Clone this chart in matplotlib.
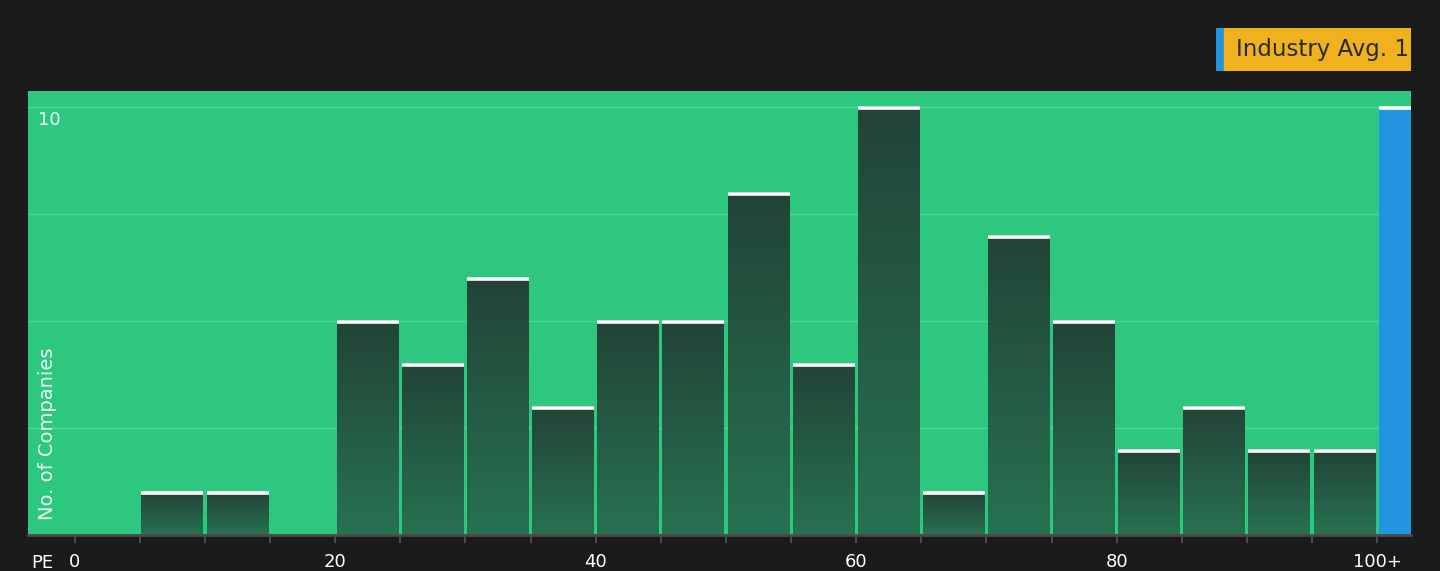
import numpy as np
import matplotlib
matplotlib.use("Agg")
import matplotlib.pyplot as plt
from matplotlib.patches import Rectangle

# Data
bin_starts = [0, 5, 10, 15, 20, 25, 30, 35, 40, 45, 50, 55, 60, 65, 70, 75, 80, 85, 90, 95]
counts = [0, 1, 1, 0, 5, 4, 6, 3, 5, 5, 8, 4, 10, 1, 7, 5, 2, 3, 2, 2]
highlight_start = 100
highlight_count = 10
tick_positions = [0, 20, 40, 60, 80, 100]
tick_labels = ["0", "20", "40", "60", "80", "100+"]
label_text = "Industry Avg. 11.2x"

BG = "#1b1b1b"
GREEN = "#2ec77f"
GRID = "#4fd796"
TOP_C = np.array([34, 68, 55]) / 255
BOT_C = np.array([39, 114, 82]) / 255
BLUE = "#2394e0"
YELLOW = "#efb11e"

fig = plt.figure(figsize=(14.4, 5.71), dpi=100, facecolor=BG)
ax = fig.add_axes([28/1440, 1-535/571, (1411-28)/1440, (535-91)/571])
ax.set_facecolor(GREEN)
xmin, xmax = -3.59, 102.6
ax.set_xlim(xmin, xmax)
ax.set_ylim(0, 10.37)

for g in [2.5, 5, 7.5, 10]:
    ax.axhline(g, color=GRID, lw=1.0, zorder=1)

bw = 5
gap = 0.12
grad = np.linspace(0, 1, 256).reshape(-1, 1)
cmap = matplotlib.colors.LinearSegmentedColormap.from_list("g", [BOT_C, TOP_C])
for s, c in zip(bin_starts, counts):
    if c <= 0:
        continue
    x0, x1 = s + gap, s + bw - gap
    ax.imshow(grad, extent=[x0, x1, 0, c], origin="lower", cmap=cmap,
              aspect="auto", zorder=2, interpolation="bilinear")
    ax.plot([x0, x1], [c - 0.03, c - 0.03], color="white", lw=2.6,
            solid_capstyle="butt", zorder=3)

ax.bar(highlight_start + gap, highlight_count, width=bw, align="edge",
       color=BLUE, zorder=2, linewidth=0)
ax.plot([highlight_start + gap, highlight_start + bw], [highlight_count - 0.03] * 2,
        color="white", lw=2.6, solid_capstyle="butt", zorder=3)
ax.set_xlim(xmin, xmax)

for sp in ["top", "right", "left"]:
    ax.spines[sp].set_visible(False)
ax.spines["bottom"].set_color("#4a4a4a")
ax.spines["bottom"].set_linewidth(2)
ax.spines["bottom"].set_zorder(5)

ax.set_xticks(list(range(0, 101, 5)))
ax.set_xticklabels([tick_labels[tick_positions.index(t)] if t in tick_positions else ""
                    for t in range(0, 101, 5)])
ax.tick_params(axis="x", colors="#555555", length=6, width=1.2, labelcolor="white",
               labelsize=13, pad=7)
ax.set_yticks([])

ax.text(-3.59 + (38 - 28) / 13.025, 10 - 13 / 42.8, "10", color="#e8fff2",
        fontsize=13, ha="left", va="center", zorder=6)
ax.text((48 - 75) / 13.025, 0.35, "No. of Companies", color="#e8fff2",
        fontsize=14, rotation=90, ha="center", va="bottom", zorder=6)
fig.text(31/1440, 1 - 563/571, "PE", color="white", fontsize=13, ha="left", va="center")

# Industry average label (clipped at axes right edge)
lax = fig.add_axes([1216/1440, 1-71/571, (1411-1216)/1440, 43/571])
lax.set_xlim(0, 195)
lax.set_ylim(0, 43)
lax.axis("off")
lax.add_patch(Rectangle((0, 0), 12, 43, color=BLUE, clip_on=True))
lax.add_patch(Rectangle((8, 0), 200, 43, color=YELLOW, clip_on=True))
lax.text(20, 21.5, label_text, color="#2a2a2a", fontsize=16.5, ha="left",
         va="center", clip_on=True)

fig.savefig("out.png", dpi=100, facecolor=BG)
